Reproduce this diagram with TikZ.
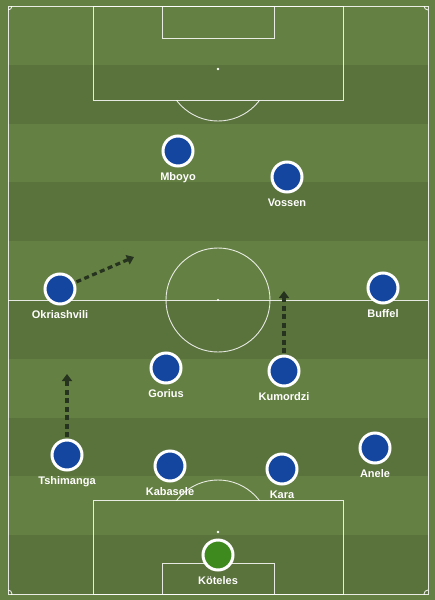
\documentclass[tikz,border=0pt]{standalone}
\usepackage{fontspec}
\setmainfont{Liberation Sans}
\usetikzlibrary{arrows.meta}
\definecolor{pitchlight}{HTML}{658043}
\definecolor{pitchdark}{HTML}{5A723C}
\definecolor{playerblue}{HTML}{1446A0}
\definecolor{keepergreen}{HTML}{3F8A1E}
\definecolor{runcolor}{HTML}{26331F}
\tikzset{
  pline/.style={draw=white, draw opacity=0.85, line width=0.9pt},
  player/.style={circle, draw=white, line width=3pt, fill=playerblue, minimum size=30pt, inner sep=0pt},
  keeper/.style={player, fill=keepergreen},
  pname/.style={text=white, font=\bfseries\fontsize{11}{13}\selectfont, inner sep=0pt, anchor=base},
  runarrow/.style={draw=runcolor, line width=3.2pt, dash pattern=on 5pt off 3.5pt, shorten <=1.5pt,
    -{Triangle[length=7pt,width=10pt]}}
}
\begin{document}
\begin{tikzpicture}[x=1pt,y=-1pt]
\useasboundingbox (0,0) rectangle (435,600);
\fill[pitchlight] (0,0) rectangle (435,600);
\foreach \i in {1,3,5,7,9}
  \fill[pitchdark] (8,{6+58.8*\i}) rectangle (428,{6+58.8*(\i+1)});
% pitch markings
\draw[pline] (8,6) rectangle (428,594);
\draw[pline] (8,300) -- (428,300);
\draw[pline] (218,300) circle[radius=52pt];
\fill[white] (218,300) circle[radius=1.2pt];
\draw[pline] (93,6) rectangle (343,100);
\draw[pline] (162,6) rectangle (274,38);
\fill[white] (218,69) circle[radius=1.3pt];
\draw[pline] (93,594) rectangle (343,500);
\draw[pline] (162,594) rectangle (274,563);
\fill[white] (218,532) circle[radius=1.3pt];
\begin{scope}
  \clip (8,100) rectangle (428,200);
  \draw[pline] (218,69) circle[radius=52pt];
\end{scope}
\begin{scope}
  \clip (8,400) rectangle (428,500);
  \draw[pline] (218,532) circle[radius=52pt];
\end{scope}
\begin{scope}
  \clip (8,6) rectangle (428,594);
  \draw[pline] (8,6) circle[radius=4pt];
  \draw[pline] (428,6) circle[radius=4pt];
  \draw[pline] (8,594) circle[radius=4pt];
  \draw[pline] (428,594) circle[radius=4pt];
\end{scope}
% players
\node[player] (mboyo) at (178,151) {};
\node[pname] (mboyo-t) at (178,180) {Mboyo};
\node[player] (vossen) at (287,177) {};
\node[pname] (vossen-t) at (287,206) {Vossen};
\node[player] (okr) at (60,289) {};
\node[pname] (okr-t) at (60,318) {Okriashvili};
\node[player] (buffel) at (383,288) {};
\node[pname] (buffel-t) at (383,317) {Buffel};
\node[player] (gorius) at (166,368) {};
\node[pname] (gorius-t) at (166,397) {Gorius};
\node[player] (kum) at (284,371) {};
\node[pname] (kum-t) at (284,400) {Kumordzi};
\node[player] (tsh) at (67,455) {};
\node[pname] (tsh-t) at (67,484) {Tshimanga};
\node[player] (kab) at (170,466) {};
\node[pname] (kab-t) at (170,495) {Kabasele};
\node[player] (kara) at (282,469) {};
\node[pname] (kara-t) at (282,498) {Kara};
\node[player] (anele) at (375,448) {};
\node[pname] (anele-t) at (375,477) {Anele};
\node[keeper] (kot) at (218,555) {};
\node[pname] (kot-t) at (218,584) {Köteles};
% runs
\coordinate (okr-to) at (134,257);
\coordinate (tsh-to) at (67,374);
\coordinate (kum-to) at (284,291);
\draw[runarrow] (okr) -- (okr-to);
\draw[runarrow] (tsh) -- (tsh-to);
\draw[runarrow] (kum) -- (kum-to);
\end{tikzpicture}
\end{document}
